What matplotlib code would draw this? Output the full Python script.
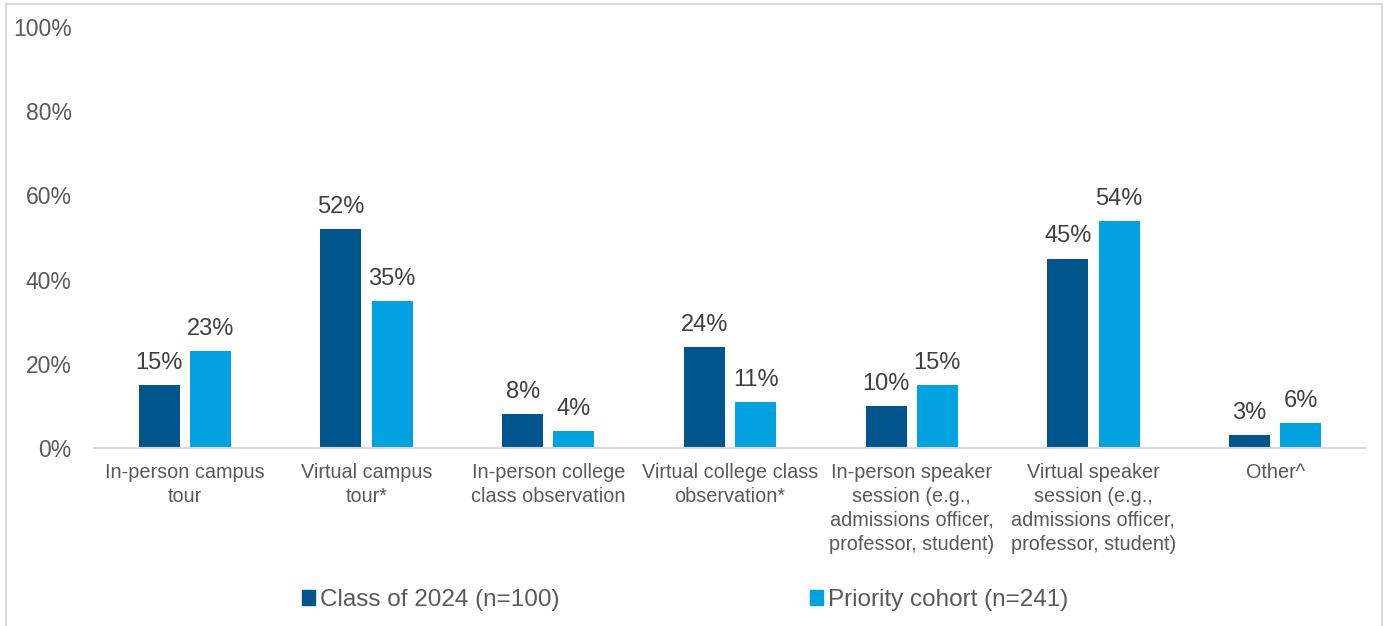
import matplotlib
matplotlib.use("Agg")
import matplotlib.pyplot as plt
from matplotlib.lines import Line2D
from matplotlib.patches import Patch
import numpy as np

plt.rcParams['font.family'] = ['Liberation Sans', 'DejaVu Sans']

categories = [
    "In-person campus\ntour",
    "Virtual campus\ntour*",
    "In-person college\nclass observation",
    "Virtual college class\nobservation*",
    "In-person speaker\nsession (e.g.,\nadmissions officer,\nprofessor, student)",
    "Virtual speaker\nsession (e.g.,\nadmissions officer,\nprofessor, student)",
    "Other^",
]
class_2024 = [15, 52, 8, 24, 10, 45, 3]
priority = [23, 35, 4, 11, 15, 54, 6]
series_names = ["Class of 2024 (n=100)", "Priority cohort (n=241)"]
yticks = [0, 20, 40, 60, 80, 100]

dark = "#00558C"
light = "#00A3E0"
tick_col = "#595959"
lab_col = "#404040"

fig = plt.figure(figsize=(13.89, 6.26), dpi=100)
ax = fig.add_axes([94/1389, 1-448/626, (1366-94)/1389, (448-27)/626])

x = np.arange(len(categories))
w = 0.226
off = 0.141
b1 = ax.bar(x - off, class_2024, w, color=dark, label=series_names[0])
b2 = ax.bar(x + off, priority, w, color=light, label=series_names[1])

for bars, vals in ((b1, class_2024), (b2, priority)):
    for r, v in zip(bars, vals):
        ax.annotate(f"{v}%", (r.get_x() + r.get_width()/2, v), xytext=(0, 8),
                    textcoords="offset points", ha="center", va="bottom",
                    fontsize=17, color=lab_col)

ax.set_xlim(-0.5, len(categories) - 0.5)
ax.set_ylim(0, 100)
ax.set_yticks(yticks)
ax.set_yticklabels([f"{t}%" for t in yticks], fontsize=16.5, color=tick_col)
ax.set_xticks(x)
ax.set_xticklabels(categories, fontsize=14.3, color=tick_col, linespacing=1.32)
ax.tick_params(axis='y', length=0, pad=16)
ax.tick_params(axis='x', length=0, pad=11)
for s in ("top", "right", "left"):
    ax.spines[s].set_visible(False)
ax.spines["bottom"].set_color("#D9D9D9")
ax.spines["bottom"].set_linewidth(1.5)

handles = [Patch(color=dark), Patch(color=light)]
fig.legend(handles, series_names, loc="center", bbox_to_anchor=(685/1389, 1-600/626),
           ncol=2, frameon=False, fontsize=17.5, labelcolor=tick_col,
           handlelength=0.55, handleheight=0.55, handletextpad=0.2,
           columnspacing=10.3, borderaxespad=0, borderpad=0)

# outer light-gray frame
bc = "#D9D9D9"
fig.add_artist(Line2D([6/1389, 6/1389], [0, 1-4/626], color=bc, lw=1.5, transform=fig.transFigure))
fig.add_artist(Line2D([1382/1389, 1382/1389], [0, 1-4/626], color=bc, lw=1.5, transform=fig.transFigure))
fig.add_artist(Line2D([6/1389, 1382/1389], [1-4/626, 1-4/626], color=bc, lw=1.5, transform=fig.transFigure))

fig.savefig("out.png", dpi=100)
